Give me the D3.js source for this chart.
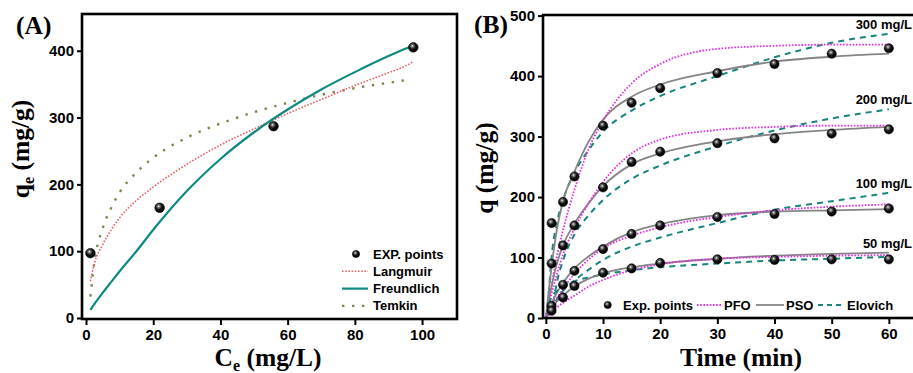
<!DOCTYPE html>
<html>
<head>
<meta charset="utf-8">
<script src="https://cdn.jsdelivr.net/npm/d3@7"></script>
<style>
  body { margin: 0; background: #fff; }
  svg { display: block; }
  .tick text { font-family: "Liberation Sans", Arial, sans-serif; font-weight: bold; font-size: 15px; fill: #000; }
  .tick line { stroke: #000; stroke-width: 2; }
  .domain { display: none; }
  .leg { font-family: "Liberation Sans", Arial, sans-serif; font-weight: bold; font-size: 13px; }
  .ttl { font-family: "Liberation Serif", "Times New Roman", serif; font-weight: bold; font-size: 25.5px; }
</style>
</head>
<body>
<svg id="chart" width="913" height="373"></svg>
<script>
// ---- (A) isotherm ----
const ceExp = [1.3, 21.9, 55.8, 97.4];
const qeExp = [97, 165, 287, 405];

const ceFit      = [1.3, 2.5, 5, 7.5, 10, 15, 20, 30, 40, 50, 60, 70, 80, 90, 95, 97.5];
const langmuir   = [55, 82, 110, 132, 150, 176, 196, 230, 259, 283, 306, 327, 348, 367, 377, 384];
const freundlich = [12, 21, 38, 54, 70, 100, 132, 190, 238, 278, 312, 342, 368, 392, 403, 408];
const temkin     = [32, 84, 135, 165, 188, 218, 240, 270, 291, 308, 322, 334, 344, 352, 356, null];

const isoTicksX = [0, 20, 40, 60, 80, 100];
const isoTicksY = [0, 100, 200, 300, 400];
const isoLegend = ["EXP. points", "Langmuir", "Freundlich", "Temkin"];

// ---- (B) kinetics ----
const timeMin = [1, 3, 5, 10, 15, 20, 30, 40, 50, 60];
const exp300 = [157, 192, 234, 318, 356, 380, 405, 420, 437, 446];
const exp200 = [90, 120, 153, 216, 258, 275, 289, 297, 305, 312];
const exp100 = [20, 55, 78, 114, 139, 153, 167, 172, 176, 181];
const exp50  = [12, 34, 53, 75, 82, 91, 97, 96, 97, 97];

const fitTime = [0, 0.5, 1, 2, 3, 5, 7.5, 10, 15, 20, 30, 40, 50, 60];
const pso300 = [0, 45, 85, 150, 193, 242, 292, 328, 366, 386, 408, 424, 432, 437];
const pfo300 = [0, 28, 55, 105, 145, 212, 280, 326, 388, 420, 445, 450, 452, 452];
const elo300 = [null, 40, 100, 160, 195, 240, 278, 308, 343, 367, 400, 431, 455, 470];
const pso200 = [0, 28, 52, 92, 120, 156, 190, 218, 254, 272, 292, 304, 311, 316];
const pfo200 = [0, 20, 40, 75, 105, 148, 190, 225, 272, 295, 311, 316, 318, 318];
const elo200 = [null, null, 8, 62, 95, 138, 170, 195, 230, 252, 284, 310, 330, 345];
const pso100 = [0, 12, 24, 43, 58, 82, 102, 118, 142, 155, 170, 176, 178, 180];
const pfo100 = [0, 9, 18, 34, 48, 73, 97, 115, 136, 150, 167, 178, 184, 188];
const elo100 = [null, null, 10, 32, 45, 62, 80, 96, 118, 133, 157, 179, 193, 207];
const pso50  = [0, 8, 15, 28, 37, 52, 65, 74, 84, 90, 98, 103, 106, 108];
const pfo50  = [0, 5, 10, 18, 25, 37, 52, 63, 79, 89, 98, 101, 103, 104];
const elo50  = [null, 23, 34, 45, 52, 61, 67, 72, 79, 84, 90, 95, 98, 101];

const kinTicksX = [0, 10, 20, 30, 40, 50, 60];
const kinTicksY = [0, 100, 200, 300, 400, 500];
const kinLegend = ["Exp. points", "PFO", "PSO", "Elovich"];
const concLabels = ["300 mg/L", "200 mg/L", "100 mg/L", "50 mg/L"];

const COLORS = {
  langmuir: '#f0606a', freundlich: '#0e8a80', temkin: '#84844e',
  pfo: '#e22ee2', pso: '#858585', elovich: '#15857d'
};

const svg = d3.select('#chart');

const defs = svg.append('defs');
const grad = defs.append('radialGradient').attr('id', 'ball')
  .attr('cx', '40%').attr('cy', '35%').attr('r', '60%');
grad.append('stop').attr('offset', '0%').attr('stop-color', '#f4f4f4');
grad.append('stop').attr('offset', '22%').attr('stop-color', '#777');
grad.append('stop').attr('offset', '55%').attr('stop-color', '#151515');
grad.append('stop').attr('offset', '100%').attr('stop-color', '#000');

function ball(g, x, y, r) {
  g.append('circle').attr('cx', x).attr('cy', y).attr('r', r)
    .attr('fill', 'url(#ball)').attr('stroke', '#000').attr('stroke-width', 0.6);
}

function curve(g, xs, ys, x, y, color, width, dash) {
  const pts = xs.map((d, i) => [d, ys[i]]);
  const line = d3.line()
    .defined(d => d[1] != null)
    .x(d => x(d[0]))
    .y(d => y(d[1]))
    .curve(d3.curveMonotoneX);
  g.append('path')
    .datum(pts)
    .attr('fill', 'none')
    .attr('stroke', color)
    .attr('stroke-width', width)
    .attr('stroke-dasharray', dash)
    .attr('d', line);
}

function axes(g, x, y, tx, ty, left, top, right, bottom) {
  g.append('g')
    .attr('transform', 'translate(0,' + bottom + ')')
    .call(d3.axisBottom(x).tickValues(tx).tickSize(6).tickPadding(4).tickFormat(d3.format('d')));
  g.append('g')
    .attr('transform', 'translate(' + left + ',0)')
    .call(d3.axisLeft(y).tickValues(ty).tickSize(5).tickPadding(3).tickFormat(d3.format('d')));
  g.append('rect')
    .attr('x', left).attr('y', top)
    .attr('width', right - left).attr('height', bottom - top)
    .attr('fill', 'none').attr('stroke', '#000').attr('stroke-width', 2.6);
}

// ================= Panel A =================
{
  const L = 82, T = 14, R = 457, B = 319;
  const x = d3.scaleLinear().domain([-1.2, 110.4]).range([L, R]);
  const y = d3.scaleLinear().domain([-1.5, 455]).range([B, T]);
  const g = svg.append('g');

  curve(g, ceFit, temkin, x, y, COLORS.temkin, 2.4, '2.4,7.6');
  curve(g, ceFit, langmuir, x, y, COLORS.langmuir, 1.6, '1.6,1.6');
  curve(g, ceFit, freundlich, x, y, COLORS.freundlich, 2.2, null);
  ceExp.forEach((c, i) => ball(g, x(c), y(qeExp[i]), 4.8));

  axes(g, x, y, isoTicksX, isoTicksY, L, T, R, B);

  // legend
  const lx = 342, ly = 254, dy = 17.3;
  const styles = [
    null,
    [COLORS.langmuir, 1.6, '1.6,1.6'],
    [COLORS.freundlich, 2.2, null],
    [COLORS.temkin, 2.4, '2.4,7.6']
  ];
  isoLegend.forEach((name, i) => {
    const yy = ly + i * dy;
    if (i === 0) {
      ball(g, lx + 14, yy, 3.6);
    } else {
      g.append('line').attr('x1', lx).attr('x2', lx + 26).attr('y1', yy).attr('y2', yy)
        .attr('stroke', styles[i][0]).attr('stroke-width', styles[i][1])
        .attr('stroke-dasharray', styles[i][2]);
    }
    g.append('text').attr('class', 'leg').attr('x', lx + 31).attr('y', yy + 4.5).text(name);
  });

  g.append('text').attr('class', 'ttl').attr('x', 16).attr('y', 34).attr('font-size', 26).text('(A)');

  const xt = g.append('text').attr('class', 'ttl').attr('x', 268).attr('y', 366).attr('text-anchor', 'middle');
  xt.append('tspan').text('C');
  xt.append('tspan').attr('font-size', 16).attr('dy', 5).text('e');
  xt.append('tspan').attr('dy', -5).text(' (mg/L)');

  const yt = g.append('text').attr('class', 'ttl').attr('text-anchor', 'middle')
    .attr('transform', 'translate(29,149) rotate(-90)');
  yt.append('tspan').text('q');
  yt.append('tspan').attr('font-size', 16).attr('dy', 5).text('e');
  yt.append('tspan').attr('dy', -5).text(' (mg/g)');
}

// ================= Panel B =================
{
  const L = 543, T = 15, R = 918, B = 318;
  const x = d3.scaleLinear().domain([-0.5, 65.1]).range([L, R]);
  const y = d3.scaleLinear().domain([0, 501]).range([B, T]);
  const g = svg.append('g');

  const sets = [
    [exp300, pfo300, pso300, elo300],
    [exp200, pfo200, pso200, elo200],
    [exp100, pfo100, pso100, elo100],
    [exp50, pfo50, pso50, elo50]
  ];

  sets.forEach(([e, pfo, pso, elo]) => {
    curve(g, fitTime, elo, x, y, COLORS.elovich, 2, '6,5');
    curve(g, fitTime, pso, x, y, COLORS.pso, 1.8, null);
    curve(g, fitTime, pfo, x, y, COLORS.pfo, 1.8, '1.6,1.6');
  });
  sets.forEach(([e]) => timeMin.forEach((t, i) => ball(g, x(t), y(e[i]), 4.6)));

  sets.forEach(([e, pfo, pso, elo], i) => {
    const top = d3.max([pfo[pfo.length - 1], pso[pso.length - 1], elo[elo.length - 1]]);
    g.append('text').attr('class', 'leg').attr('font-size', 12)
      .attr('x', 912).attr('y', y(top) - 5).attr('text-anchor', 'end').text(concLabels[i]);
  });

  axes(g, x, y, kinTicksX, kinTicksY, L, T, R, B);

  // legend (single row)
  const ly = 305;
  ball(g, 607.7, ly, 3.6);
  g.append('text').attr('class', 'leg').attr('x', 623).attr('y', ly + 4.5).text(kinLegend[0]);
  g.append('line').attr('x1', 697).attr('x2', 722).attr('y1', ly).attr('y2', ly)
    .attr('stroke', COLORS.pfo).attr('stroke-width', 1.8).attr('stroke-dasharray', '1.6,1.6');
  g.append('text').attr('class', 'leg').attr('x', 724).attr('y', ly + 4.5).text(kinLegend[1]);
  g.append('line').attr('x1', 756).attr('x2', 784).attr('y1', ly).attr('y2', ly)
    .attr('stroke', COLORS.pso).attr('stroke-width', 1.8);
  g.append('text').attr('class', 'leg').attr('x', 786).attr('y', ly + 4.5).text(kinLegend[2]);
  g.append('line').attr('x1', 818).attr('x2', 841).attr('y1', ly).attr('y2', ly)
    .attr('stroke', COLORS.elovich).attr('stroke-width', 2).attr('stroke-dasharray', '5,4');
  g.append('text').attr('class', 'leg').attr('x', 847).attr('y', ly + 4.5).text(kinLegend[3]);

  g.append('text').attr('class', 'ttl').attr('x', 474).attr('y', 33).attr('font-size', 26).text('(B)');
  g.append('text').attr('class', 'ttl').attr('x', 741).attr('y', 366).attr('text-anchor', 'middle').text('Time (min)');
  g.append('text').attr('class', 'ttl').attr('text-anchor', 'middle')
    .attr('transform', 'translate(493,168) rotate(-90)').text('q (mg/g)');
}
</script>
</body>
</html>
